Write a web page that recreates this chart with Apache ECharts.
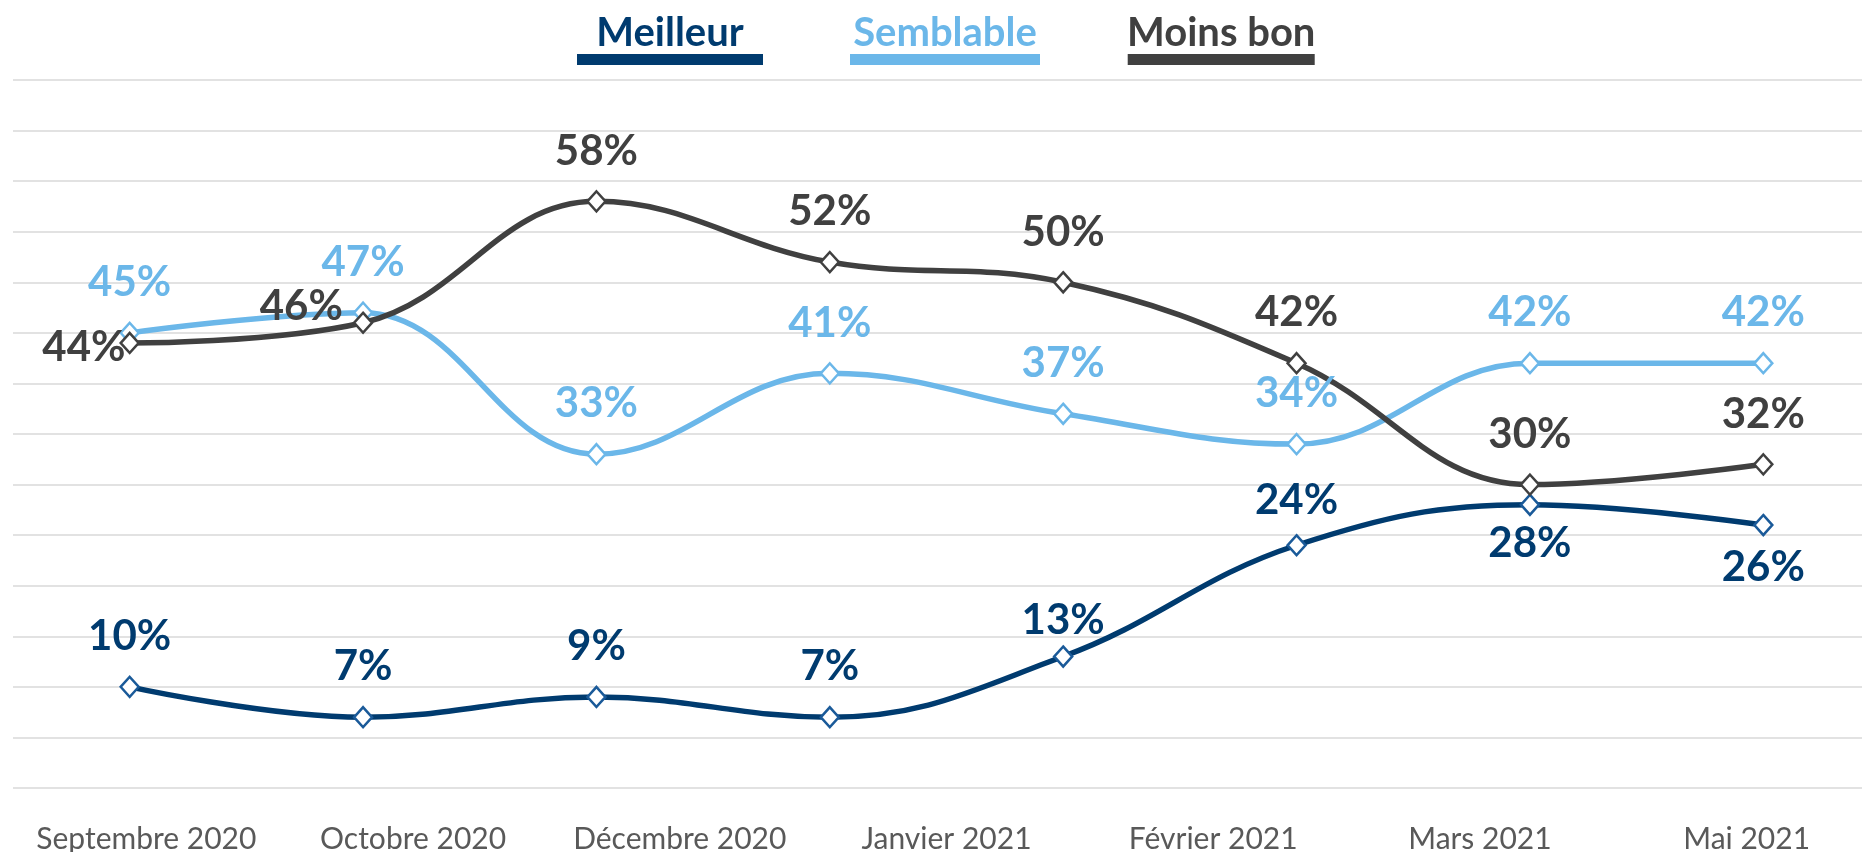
<!DOCTYPE html>
<html>
<head>
<meta charset="utf-8">
<script src="https://cdn.jsdelivr.net/npm/echarts@6/dist/echarts.min.js"></script>
<style>
  html, body { margin: 0; padding: 0; background: #fff; }
  #chart { width: 1862px; height: 852px; }
</style>
</head>
<body>
<div id="chart"></div>
<script>
// libellés de l'axe (7 mois affichés)
var monthLabels = ['Septembre 2020', 'Octobre 2020', 'Décembre 2020', 'Janvier 2021', 'Février 2021', 'Mars 2021', 'Mai 2021'];
// 8 vagues de mesure (points des courbes)
var waves = ['V1', 'V2', 'V3', 'V4', 'V5', 'V6', 'V7', 'V8'];

var meilleur = [10, 7, 9, 7, 13, 24, 28, 26];
var semblable = [45, 47, 33, 41, 37, 34, 42, 42];
var moinsBon = [44, 46, 58, 52, 50, 42, 30, 32];

var seriesNames = ['Meilleur', 'Semblable', 'Moins bon'];
var colors = ['#003B6F', '#6BB7E9', '#404040'];
var markerColors = ['#1A5A99', '#6BB7E9', '#404040'];

var chart = echarts.init(document.getElementById('chart'));
var FONT = 'Lato, "Open Sans", sans-serif';

// réglages particuliers des étiquettes, par série / par point
var labelTweaks = {
    0: {
        4: { distance: 4 },
        5: { distance: 12 },
        6: { position: 'bottom', distance: 6 },
        7: { position: 'bottom', distance: 10 }
    },
    1: {},
    2: {
        0: { position: 'left', distance: -6, offset: [0, 4] },
        1: { position: 'left', distance: 10, offset: [0, -16] }
    }
};

function buildData(values, idx) {
    return values.map(function (v, i) {
        var t = labelTweaks[idx][i];
        if (!t) return v;
        return { value: v, label: t };
    });
}

function makeSeries(name, values, idx) {
    return {
        name: name,
        type: 'line',
        xAxisIndex: 1,
        smooth: 0.4,
        data: buildData(values, idx),
        symbol: 'diamond',
        symbolSize: [18, 20],
        showAllSymbol: true,
        lineStyle: { color: colors[idx], width: 5.5 },
        itemStyle: { color: '#ffffff', borderColor: markerColors[idx], borderWidth: 2.5 },
        label: {
            show: true,
            position: 'top',
            distance: 18,
            formatter: '{c}%',
            fontFamily: FONT,
            fontWeight: 'bold',
            fontSize: 42,
            color: colors[idx]
        },
        emphasis: { disabled: true }
    };
}

var rich = {};
seriesNames.forEach(function (n, i) {
    rich['t' + i] = {
        fontFamily: FONT, fontWeight: 'bold', fontSize: 40, color: colors[i],
        align: 'center', lineHeight: 42
    };
    rich['u' + i] = {
        width: [186, 190, 187][i], height: 11, backgroundColor: colors[i], align: 'center'
    };
});

var option = {
    animation: false,
    legend: {
        top: 8,
        left: 567,
        icon: 'none',
        itemWidth: 0,
        itemHeight: 0,
        itemGap: 82,
        selectedMode: false,
        data: seriesNames,
        formatter: function (name) {
            var i = seriesNames.indexOf(name);
            return '{t' + i + '|' + name + '}\n{u' + i + '|}';
        },
        textStyle: { rich: rich }
    },
    grid: { left: 13, right: -18, top: 80, bottom: 64, containLabel: false, outerBoundsMode: 'none' },
    xAxis: [
        {
            type: 'category',
            data: monthLabels,
            boundaryGap: true,
            axisLine: { show: false },
            axisTick: { show: false },
            axisLabel: { interval: 0, fontFamily: FONT, fontSize: 30, color: '#595959', margin: 36 }
        },
        {
            type: 'category',
            data: waves,
            boundaryGap: true,
            show: false
        }
    ],
    yAxis: {
        type: 'value',
        min: 0,
        max: 70,
        interval: 5,
        axisLabel: { show: false },
        axisLine: { show: false },
        axisTick: { show: false },
        splitLine: { lineStyle: { color: '#D9D9D9', width: 1.5 } }
    },
    series: [
        makeSeries(seriesNames[0], meilleur, 0),
        makeSeries(seriesNames[1], semblable, 1),
        makeSeries(seriesNames[2], moinsBon, 2)
    ]
};

chart.setOption(option);
</script>
</body>
</html>
